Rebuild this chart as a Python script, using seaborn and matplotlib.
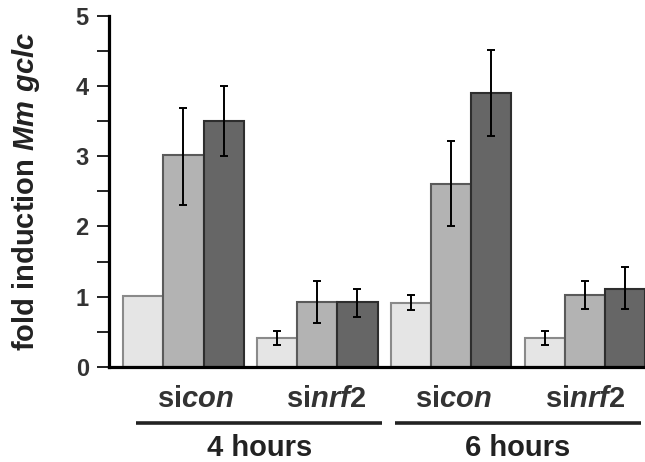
import numpy as np
import pandas as pd
import matplotlib
matplotlib.use('Agg')
import matplotlib.pyplot as plt
import seaborn as sns

# data
groups = ['4h sicon', '4h sinrf2', '6h sicon', '6h sinrf2']
group_labels = [r'si$\mathit{con}$', r'si$\mathit{nrf2}$', r'si$\mathit{con}$', r'si$\mathit{nrf2}$']
treatments = ['t1', 't2', 't3']
values_t1 = [1.01, 0.41, 0.91, 0.41]
values_t2 = [3.02, 0.92, 2.61, 1.02]
values_t3 = [3.50, 0.92, 3.90, 1.11]
err_low_t1 = [np.nan, 0.31, 0.81, 0.31]
err_high_t1 = [np.nan, 0.51, 1.02, 0.51]
err_low_t2 = [2.31, 0.62, 2.00, 0.82]
err_high_t2 = [3.69, 1.22, 3.21, 1.22]
err_low_t3 = [3.01, 0.71, 3.29, 0.82]
err_high_t3 = [4.00, 1.11, 4.51, 1.42]
time_labels = ['4 hours', '6 hours']
y_ticks = [0, 1, 2, 3, 4, 5]

fill_colors = ['#e5e5e5', '#b3b3b3', '#666666']
edge_colors = ['#8a8a8a', '#5a5a5a', '#2e2e2e']

rows = []
for t, vals, lo, hi in zip(treatments,
                           [values_t1, values_t2, values_t3],
                           [err_low_t1, err_low_t2, err_low_t3],
                           [err_high_t1, err_high_t2, err_high_t3]):
    for g, v, l, h in zip(groups, vals, lo, hi):
        rows.append({'group': g, 'treatment': t, 'fold': v, 'lo': l, 'hi': h})
data = pd.DataFrame(rows)

sns.set_style('ticks')
plt.rcParams['font.family'] = ['Liberation Sans', 'DejaVu Sans']
plt.rcParams['font.weight'] = 'bold'
plt.rcParams['mathtext.fontset'] = 'custom'
plt.rcParams['mathtext.rm'] = 'Liberation Sans:bold'
plt.rcParams['mathtext.it'] = 'Liberation Sans:italic:bold'
plt.rcParams['mathtext.bf'] = 'Liberation Sans:bold'

fig = plt.figure(figsize=(6.45, 4.62), dpi=100)
ax = fig.add_axes([0.169, 0.2056, 0.831, 0.7604])

sns.barplot(data=data, x='group', y='fold', hue='treatment',
            order=groups, hue_order=treatments, palette=fill_colors,
            width=0.9, errorbar=None, legend=False, ax=ax,
            linewidth=1.5, saturation=1)

# edge colours per treatment and error bars from the seaborn bar patches
bar_containers = list(ax.containers)
for i, cont in enumerate(bar_containers):
    sub = data[data['treatment'] == treatments[i]].set_index('group').loc[groups]
    for bar, (_, r) in zip(cont.patches, sub.iterrows()):
        bar.set_edgecolor(edge_colors[i])
        if np.isnan(r['lo']):
            continue
        xc = bar.get_x() + bar.get_width() / 2
        ax.errorbar(xc, r['fold'],
                    yerr=[[r['fold'] - r['lo']], [r['hi'] - r['fold']]],
                    fmt='none', ecolor='black', elinewidth=1.4,
                    capsize=3, capthick=1.4, zorder=5)

ax.set_ylim(0, 5)
ax.set_xlim(-0.556, 3.448)
ax.set_yticks(y_ticks)
ax.set_yticks(np.arange(0.5, 5, 1), minor=True)
ax.tick_params(axis='y', which='both', direction='out', length=9, width=1.4,
               labelsize=17, pad=5.5, color='#222222', labelcolor='#333333')
ax.set_xticks([])
ax.set_xlabel('')
ax.set_ylabel('')
sns.despine(ax=ax)
ax.spines['left'].set_linewidth(2.3)
ax.spines['bottom'].set_linewidth(2.3)
ax.spines['left'].set_color('black')
ax.spines['bottom'].set_color('black')

trans = ax.get_xaxis_transform()
label_x = [0.09, 1.066, 2.02, 3.0]
for x, lab in zip(label_x, group_labels):
    ax.text(x, -0.113, lab, transform=trans, ha='center', va='baseline',
            fontsize=21, color='#333333', clip_on=False)

for (x0, x1) in [(-0.354, 1.486), (1.578, 3.419)]:
    ax.plot([x0, x1], [-0.1586, -0.1586], transform=trans, color='#222222',
            lw=2.6, clip_on=False, solid_capstyle='butt')

for x, lab in zip([0.571, 2.496], time_labels):
    ax.text(x, -0.252, lab, transform=trans, ha='center', va='baseline',
            fontsize=21, color='#222222', clip_on=False)

fig.text(0.040, 0.585, r'fold induction $\mathit{Mm\ gclc}$', rotation=90,
         ha='center', va='center', fontsize=21, color='#222222')

fig.savefig('out.png', dpi=100)
